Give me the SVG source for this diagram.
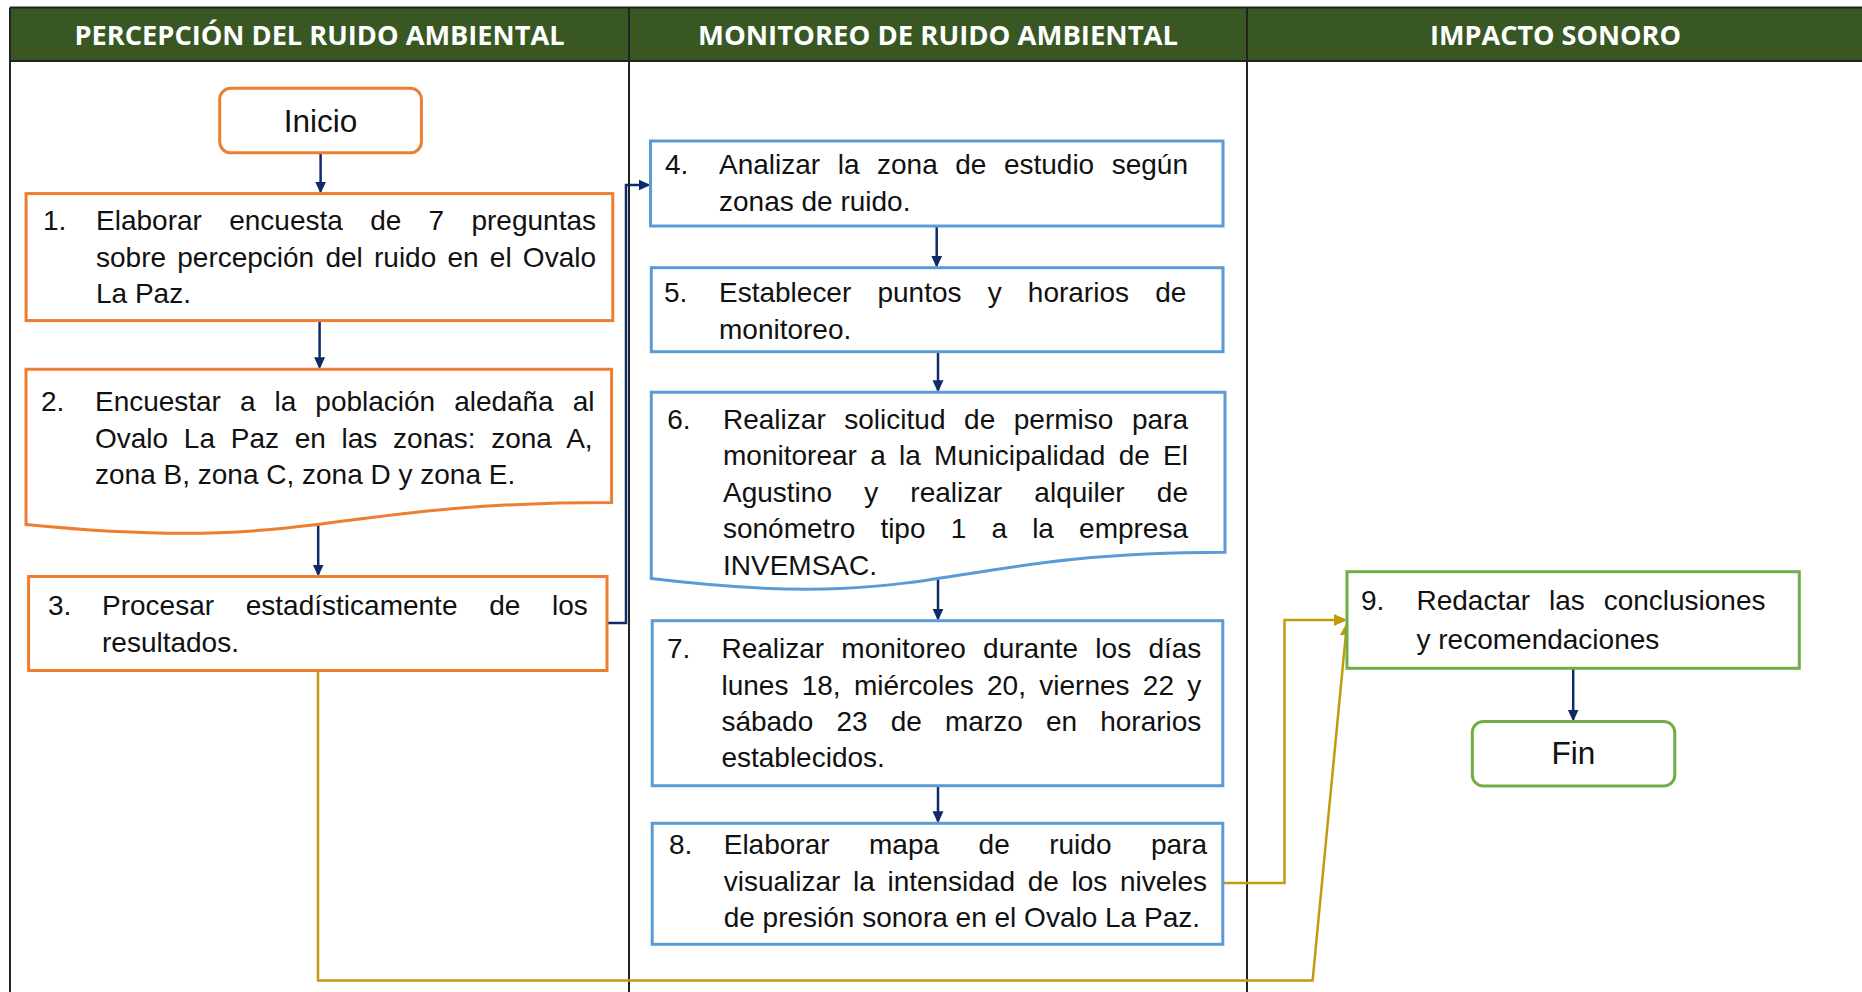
<svg xmlns="http://www.w3.org/2000/svg" width="1862" height="992" viewBox="0 0 1862 992">
<style>
.t{font-family:"Liberation Sans",Arial,sans-serif;font-size:28px;fill:#111}
.big{font-family:"Liberation Sans",Arial,sans-serif;font-size:31.5px;fill:#111;text-anchor:middle}
.h{font-family:"Open Sans","Liberation Sans",sans-serif;font-weight:700;font-size:26px;fill:#fff;text-anchor:middle}
.or{fill:#fff;stroke:#ED7D31;stroke-width:3}
.bl{fill:#fff;stroke:#5B9BD5;stroke-width:3}
.gr{fill:#fff;stroke:#70AD47;stroke-width:3}
.nv{fill:none;stroke:#0F2B66;stroke-width:2.5;marker-end:url(#an)}
.gd{fill:none;stroke:#C39A0C;stroke-width:2.5;marker-end:url(#ag)}
.ln{stroke:#222;stroke-width:2;fill:none}
</style>
<defs>
<marker id="an" markerUnits="userSpaceOnUse" viewBox="0 0 12 12" markerWidth="12" markerHeight="12" refX="10" refY="6" orient="auto"><path d="M0,0.5 L12,6 L0,11.5 Z" fill="#0F2B66"/></marker>
<marker id="ag" markerUnits="userSpaceOnUse" viewBox="0 0 13 13" markerWidth="13" markerHeight="13" refX="11" refY="6.5" orient="auto"><path d="M0,0.5 L13,6.5 L0,12.5 Z" fill="#C39A0C"/></marker>
</defs>
<rect x="0" y="0" width="1862" height="992" fill="#fff"/>
<g id="lanes">
<rect x="10" y="7.5" width="1860" height="53.5" fill="#385723"/>
<path class="ln" d="M10,7.5 H1862 M10,61 H1862 M10,7.5 V992 M629,7.5 V992 M1247,7.5 V992"/>
<text class="h" x="319.5" y="45" textLength="490" lengthAdjust="spacingAndGlyphs">PERCEPCIÓN DEL RUIDO AMBIENTAL</text>
<text class="h" x="938" y="45" textLength="480" lengthAdjust="spacingAndGlyphs">MONITOREO DE RUIDO AMBIENTAL</text>
<text class="h" x="1555.5" y="45" textLength="251" lengthAdjust="spacingAndGlyphs">IMPACTO SONORO</text>
</g>
<g id="connectors">
<path class="nv" d="M320.6,153 V191.6"/>
<path class="nv" d="M319.6,320.6 V367.3"/>
<path class="nv" d="M318.2,524.3 V574.5"/>
<path class="nv" d="M607,623 H626 V185 H648.5"/>
<path class="nv" d="M936.7,226 V265.7"/>
<path class="nv" d="M938,351.7 V390.3"/>
<path class="nv" d="M938,578.5 V618.7"/>
<path class="nv" d="M938,785.7 V821.3"/>
<path class="nv" d="M1573.2,668.3 V719.5"/>
<path class="gd" d="M1222.8,883 H1284.5 V620 H1345"/>
<path class="gd" d="M318,671 V980.5 H1312.6 L1346.8,624.5"/>
</g>
<g id="inicio">
<rect class="or" x="219.7" y="88.3" width="201.7" height="64.5" rx="11"/>
<text class="big" x="320.6" y="131.5">Inicio</text>
</g>
<g id="n1">
<rect class="or" x="26.1" y="193.6" width="586.7" height="127"/>
<text class="t" x="43" y="230">1.</text>
<text class="t" x="96" y="230" word-spacing="19.5" textLength="500" lengthAdjust="spacing">Elaborar encuesta de 7 preguntas</text>
<text class="t" x="96" y="266.7" word-spacing="3.45" textLength="500" lengthAdjust="spacing">sobre percepción del ruido en el Ovalo</text>
<text class="t" x="96" y="303.3">La Paz.</text>
</g>
<g id="n2">
<path class="or" d="M26,369.3 H611.6 V502.5 C318.8,502.5 318.8,553.3 26,524.4 Z"/>
<text class="t" x="41" y="411">2.</text>
<text class="t" x="95" y="411" word-spacing="11.3" textLength="499.5" lengthAdjust="spacing">Encuestar a la población aledaña al</text>
<text class="t" x="95" y="447.5" word-spacing="8" textLength="497.6" lengthAdjust="spacing">Ovalo La Paz en las zonas: zona A,</text>
<text class="t" x="95" y="484">zona B, zona C, zona D y zona E.</text>
</g>
<g id="n3">
<rect class="or" x="28.6" y="576.5" width="578.4" height="94"/>
<text class="t" x="48" y="615">3.</text>
<text class="t" x="102" y="615" word-spacing="23.9" textLength="485.8" lengthAdjust="spacing">Procesar estadísticamente de los</text>
<text class="t" x="102" y="652">resultados.</text>
</g>
<g id="n4">
<rect class="bl" x="650.5" y="141" width="572.5" height="85"/>
<text class="t" x="665" y="174.3">4.</text>
<text class="t" x="719" y="174.3" word-spacing="9.76" textLength="469" lengthAdjust="spacing">Analizar la zona de estudio según</text>
<text class="t" x="719" y="210.7">zonas de ruido.</text>
</g>
<g id="n5">
<rect class="bl" x="651.3" y="267.7" width="571.7" height="84"/>
<text class="t" x="664" y="301.7">5.</text>
<text class="t" x="719" y="301.7" word-spacing="18.4" textLength="467.3" lengthAdjust="spacing">Establecer puntos y horarios de</text>
<text class="t" x="719" y="339">monitoreo.</text>
</g>
<g id="n6">
<path class="bl" d="M651.3,392.3 H1225 V552.3 C938.2,552.3 938.2,613.3 651.3,578.6 Z"/>
<text class="t" x="667.3" y="428.5">6.</text>
<text class="t" x="723" y="428.5" word-spacing="10.8" textLength="465" lengthAdjust="spacing">Realizar solicitud de permiso para</text>
<text class="t" x="723" y="465" word-spacing="5.5" textLength="465" lengthAdjust="spacing">monitorear a la Municipalidad de El</text>
<text class="t" x="723" y="501.5" word-spacing="24.4" textLength="465" lengthAdjust="spacing">Agustino y realizar alquiler de</text>
<text class="t" x="723" y="538" word-spacing="17.4" textLength="465" lengthAdjust="spacing">sonómetro tipo 1 a la empresa</text>
<text class="t" x="723" y="574.5">INVEMSAC.</text>
</g>
<g id="n7">
<rect class="bl" x="652.2" y="620.7" width="570.6" height="165"/>
<text class="t" x="667" y="658.3">7.</text>
<text class="t" x="721.4" y="658.3" word-spacing="9.5" textLength="479.9" lengthAdjust="spacing">Realizar monitoreo durante los días</text>
<text class="t" x="721.4" y="695" word-spacing="5.5" textLength="479.9" lengthAdjust="spacing">lunes 18, miércoles 20, viernes 22 y</text>
<text class="t" x="721.4" y="731" word-spacing="15.4" textLength="479.9" lengthAdjust="spacing">sábado 23 de marzo en horarios</text>
<text class="t" x="721.4" y="767.3">establecidos.</text>
</g>
<g id="n8">
<rect class="bl" x="652.2" y="823.3" width="570.6" height="121"/>
<text class="t" x="669" y="854.3">8.</text>
<text class="t" x="723.7" y="854.3" word-spacing="31.7" textLength="483.3" lengthAdjust="spacing">Elaborar mapa de ruido para</text>
<text class="t" x="723.7" y="891" word-spacing="4.9" textLength="483.3" lengthAdjust="spacing">visualizar la intensidad de los niveles</text>
<text class="t" x="723.7" y="926.7">de presión sonora en el Ovalo La Paz.</text>
</g>
<g id="n9">
<rect class="gr" x="1347" y="571.7" width="452.3" height="96.6"/>
<text class="t" x="1361" y="610">9.</text>
<text class="t" x="1416.5" y="610" word-spacing="11.1" textLength="349" lengthAdjust="spacing">Redactar las conclusiones</text>
<text class="t" x="1416.5" y="649.3">y recomendaciones</text>
</g>
<g id="fin">
<rect class="gr" x="1472.3" y="721.5" width="202.5" height="64.5" rx="11"/>
<text class="big" x="1573.5" y="763.5">Fin</text>
</g>
</svg>
